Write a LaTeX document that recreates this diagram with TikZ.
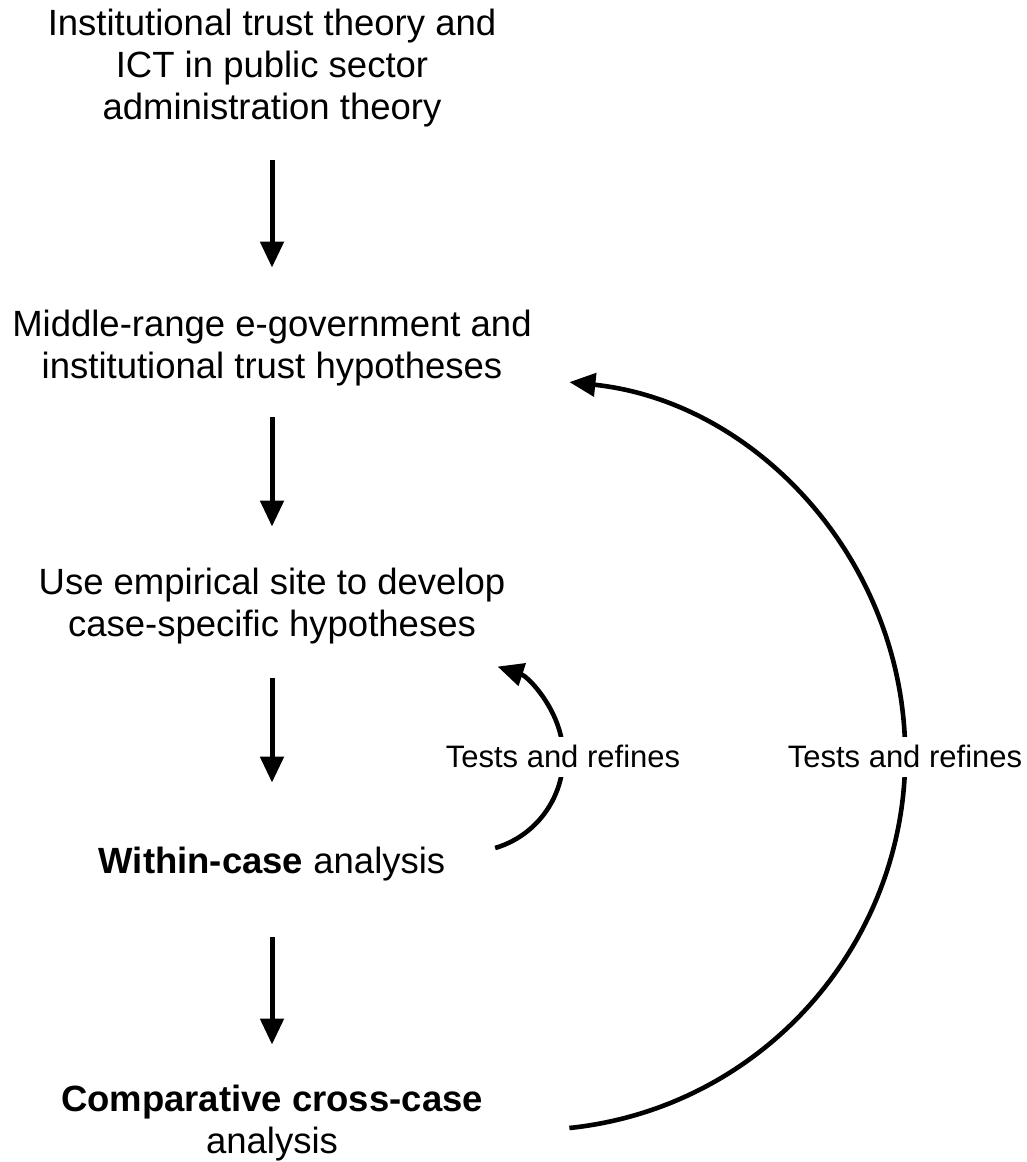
\documentclass[tikz,border=0pt]{standalone}
\usepackage{fontspec}
\setmainfont{Liberation Sans}
\usetikzlibrary{arrows.meta,calc}
\begin{document}
\begin{tikzpicture}[x=0.5pt,y=-0.5pt,
  stage/.style={align=center,inner sep=0pt,font=\fontsize{18.25pt}{21pt}\selectfont},
  flow/.style={line width=2.5pt,-{Triangle[length=13pt,width=11.5pt]}},
  loop/.style={line width=2.3pt,-{Triangle[length=13pt,width=11.5pt]}},
  loopnote/.style={fill=white,inner xsep=2pt,inner ysep=2pt,text height=13.2pt,text depth=3pt,
    font=\fontsize{15.5pt}{18pt}\selectfont}]
\useasboundingbox (0,0) rectangle (1027,1162);

% stages of the research design
\node[stage] (theory) at (272,68) {Institutional trust theory and\\ICT in public sector\\administration theory};
\node[stage] (mid) at (272,348) {Middle-range e-government and\\institutional trust hypotheses};
\node[stage] (use) at (272,606) {Use empirical site to develop\\case-specific hypotheses};
\node[stage] (within) at (272,864) {{\bfseries Within-case} analysis};
\node[stage] (comp) at (272,1123) {{\bfseries Comparative cross-case}\\analysis};

% downward flow
\draw[flow,shorten <=16.5pt,shorten >=21pt] (theory.south) -- (mid.north);
\draw[flow,shorten <=15.5pt,shorten >=20.5pt] (mid.south) -- (use.north);
\draw[flow,shorten <=17pt,shorten >=32pt] (use.south) -- (within.north);
\draw[flow,shorten <=28pt,shorten >=20pt] (within.south) -- (comp.north);

% feedback loops (circular arcs, labels laid over them)
\draw[loop] ($(within.east)+(49.5,-16)$) arc[start angle=73.5, end angle=-72, radius=95];
\draw[loop] ($(comp.east)+(86,5)$) arc[start angle=84, end angle=-84, radius=375];
\node[loopnote] (smallnote) at (563,757) {Tests and refines};
\node[loopnote] (bignote) at (905,757) {Tests and refines};
\end{tikzpicture}
\end{document}
